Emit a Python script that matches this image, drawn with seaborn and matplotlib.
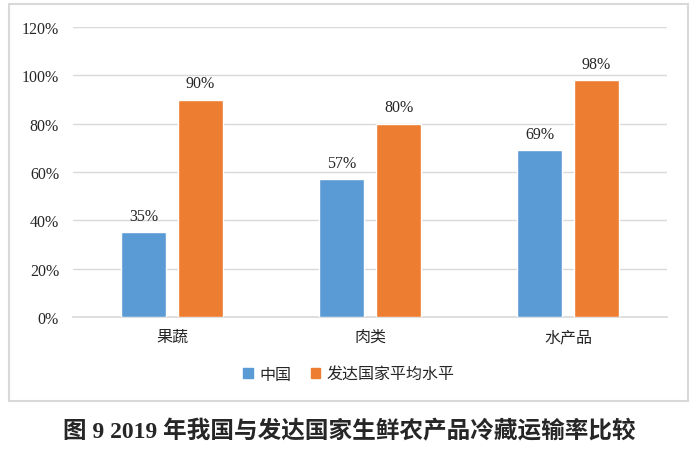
import matplotlib
matplotlib.use('Agg')
import matplotlib.pyplot as plt
import matplotlib.patches as mpatches
import seaborn as sns
import pandas as pd

# Data
categories = ['果蔬', '肉类', '水产品']
series = ['中国', '发达国家平均水平']
china = [35, 57, 69]
developed = [90, 80, 98]
yticks = [0, 20, 40, 60, 80, 100, 120]
title = '图 9 2019 年我国与发达国家生鲜农产品冷藏运输率比较'

colors = ['#5B9BD5', '#ED7D31']
grid_c = '#D9D9D9'

df = pd.DataFrame({
    'cat': categories * 2,
    'series': [series[0]] * 3 + [series[1]] * 3,
    'val': china + developed,
})

sns.set_theme(style='white')
plt.rcParams['font.family'] = ['Noto Sans CJK SC', 'DejaVu Sans']
serif = ['Liberation Serif', 'Noto Sans CJK SC']

fig = plt.figure(figsize=(6.98, 4.52), dpi=100)
ax = fig.add_axes([0.1046, 0.2965, 0.851, 0.6415])

sns.barplot(data=df, x='cat', y='val', hue='series', palette=colors,
            width=0.576, gap=0.21, saturation=1, ax=ax, legend=False, zorder=3)

for cont in ax.containers:
    ax.bar_label(cont, labels=[f'{v:.0f}%' for v in cont.datavalues],
                 padding=6, fontsize=11.5, family=serif)

ax.set_ylim(0, 120)
ax.set_yticks(yticks)
ax.set_yticklabels([f'{t}%' for t in yticks], family=serif, fontsize=11.5)
ax.set_xlim(-0.5, 2.5)
ax.yaxis.grid(True, color=grid_c, linewidth=1, zorder=0)
ax.set_axisbelow(True)
for s in ['top', 'right', 'left']:
    ax.spines[s].set_visible(False)
ax.spines['bottom'].set_color(grid_c)
ax.spines['bottom'].set_linewidth(1.2)
ax.tick_params(axis='y', length=0, pad=10)
ax.tick_params(axis='x', length=0, pad=8, labelsize=11.5)
ax.set_xlabel('')
ax.set_ylabel('')

handles = [mpatches.Patch(color=c, label=l) for c, l in zip(colors, series)]
fig.legend(handles=handles, loc='center', bbox_to_anchor=(0.5, 0.17), ncol=2,
           frameon=False, fontsize=11.5, handlelength=0.6, handleheight=0.6,
           handletextpad=0.4, columnspacing=1.2)

# chart border
fig.patches.append(mpatches.Rectangle((9 / 698, 1 - 402 / 452), 679 / 698, 397 / 452,
                                      transform=fig.transFigure, fill=False,
                                      edgecolor=grid_c, linewidth=1.5))

fig.text(0.5, 1 - 432 / 452, title, ha='center', va='center', fontsize=17,
         fontweight='bold', family=serif)

fig.savefig('out.png', dpi=100)
